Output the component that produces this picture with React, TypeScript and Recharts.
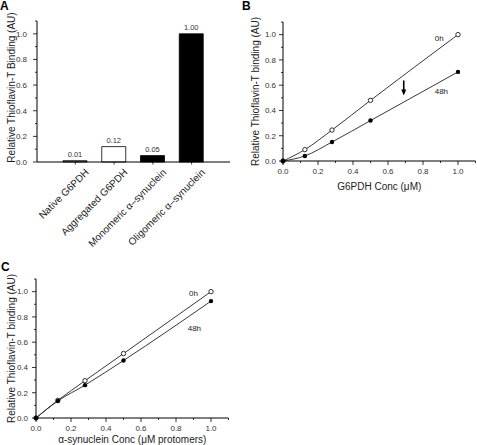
import {
  Bar,
  BarChart,
  Cell,
  LabelList,
  Line,
  LineChart,
  ReferenceDot,
  ReferenceLine,
  XAxis,
  YAxis,
} from "recharts";

const FONT = '"Liberation Sans", Arial, sans-serif';

// panel A
const categories = ["Native G6PDH", "Aggregated G6PDH", "Monomeric α–synuclein", "Oligomeric α–synuclein"];
const bindingValues = [0.01, 0.12, 0.05, 1.0];
const barFills = ["#8a8a8a", "#ffffff", "#000000", "#000000"];

// panel B
const g6pdhConc = [0, 0.125, 0.28, 0.5, 1.0];
const g6pdh0h = [0, 0.09, 0.245, 0.48, 1.0];
const g6pdh48h = [0, 0.04, 0.15, 0.32, 0.705];

// panel C
const synConc = [0, 0.125, 0.28, 0.5, 1.0];
const syn0h = [0, 0.14, 0.295, 0.51, 1.0];
const syn48h = [0, 0.135, 0.26, 0.455, 0.925];

const axisTicks = [0, 0.1, 0.2, 0.3, 0.4, 0.5, 0.6, 0.7, 0.8, 0.9, 1.0, 1.1];

const barData = categories.map((name, i) => ({ name, value: bindingValues[i], fill: barFills[i] }));
const g6pdhData = g6pdhConc.map((x, i) => ({ x, h0: g6pdh0h[i], h48: g6pdh48h[i] }));
const synData = synConc.map((x, i) => ({ x, h0: syn0h[i], h48: syn48h[i] }));

const isMajor = (v: number) => Math.round(v * 10) % 2 === 0;

const YTick = (props: any) => {
  const { x, y, payload, gap } = props;
  const v = payload.value;
  const major = isMajor(v);
  return (
    <g>
      <line x1={x} x2={x - (major ? 4 : 2)} y1={y} y2={y} stroke="#000" strokeWidth={0.8} />
      {major && v <= 1 && (
        <text x={x - gap} y={y} dy="0.35em" textAnchor="end" fontSize={8} fill="#333" fontFamily={FONT}>
          {v.toFixed(1)}
        </text>
      )}
    </g>
  );
};

const XTick = (props: any) => {
  const { x, y, payload } = props;
  const v = payload.value;
  const major = isMajor(v);
  return (
    <g>
      <line x1={x} x2={x} y1={y} y2={y + (major ? 4 : 2)} stroke="#000" strokeWidth={0.8} />
      {major && v <= 1 && (
        <text x={x} y={y + 10} dy="0.35em" textAnchor="middle" fontSize={8} fill="#333" fontFamily={FONT}>
          {v.toFixed(1)}
        </text>
      )}
    </g>
  );
};

const CategoryTick = (props: any) => {
  const { x, y, payload } = props;
  return (
    <g>
      <line x1={x} x2={x} y1={y} y2={y + 2.5} stroke="#000" strokeWidth={0.8} />
      <g transform={`translate(${x + 14}, ${y + 11}) rotate(-45)`}>
        <text x={0} y={0} textAnchor="end" fontSize={10} fill="#222" fontFamily={FONT}>
          {payload.value}
        </text>
      </g>
    </g>
  );
};

const Arrow = (props: any) => {
  const { x1, y1, x2, y2 } = props;
  return (
    <g>
      <line x1={x1} y1={y1} x2={x2} y2={y2 - 5} stroke="#000" strokeWidth={1.6} />
      <polygon points={`${x2 - 2.5},${y2 - 6} ${x2 + 2.5},${y2 - 6} ${x2},${y2}`} fill="#000" />
    </g>
  );
};

const OpenDot = (props: any) => (
  <circle cx={props.cx} cy={props.cy} r={2.2} fill="#fff" stroke="#000" strokeWidth={0.8} />
);
const FilledDot = (props: any) => <circle cx={props.cx} cy={props.cy} r={2.2} fill="#000" />;

const yTitleStyle = { textAnchor: "middle" as const, fontSize: 10, fill: "#222", fontFamily: FONT };
const tagLabel = (value: string) => ({ value, position: "center" as const, fontSize: 8, fill: "#222", fontFamily: FONT });

function PanelLetter({ letter, left, top }: { letter: string; left: number; top: number }) {
  return (
    <div
      style={{
        position: "absolute",
        left,
        top,
        fontFamily: FONT,
        fontWeight: "bold",
        fontSize: 12,
        lineHeight: "12px",
      }}
    >
      {letter}
    </div>
  );
}

export default function App() {
  return (
    <div style={{ position: "absolute", left: 0, top: 0, width: 477, height: 445, background: "#fff", overflow: "hidden" }}>
      <div style={{ position: "absolute", left: 0, top: 0 }}>
        <BarChart width={240} height={258} data={barData} margin={{ top: 21, right: 10, bottom: 0, left: 0 }}>
          <XAxis
            dataKey="name"
            height={96}
            padding={{ left: 19, right: 19 }}
            tickLine={false}
            tickSize={0}
            tickMargin={0}
            interval={0}
            tick={<CategoryTick />}
            stroke="#000"
          />
          <YAxis
            type="number"
            domain={[0, 1.1]}
            ticks={axisTicks}
            interval={0}
            width={37}
            tickLine={false}
            tickSize={0}
            tickMargin={0}
            tick={<YTick gap={10} />}
            stroke="#000"
            label={{ value: "Relative Thioflavin-T Binding (AU)", angle: -90, position: "insideLeft", offset: 11, dy: -4, style: yTitleStyle }}
          />
          <Bar dataKey="value" barSize={24} stroke="#000" strokeWidth={0.8} isAnimationActive={false}>
            {barData.map((d) => (
              <Cell key={d.name} fill={d.fill} />
            ))}
            <LabelList
              dataKey="value"
              position="top"
              offset={4}
              formatter={(v: any) => Number(v).toFixed(2)}
              style={{ fontSize: 7.5, fill: "#333", fontFamily: FONT }}
            />
          </Bar>
        </BarChart>
      </div>

      <div style={{ position: "absolute", left: 240, top: 0 }}>
        <LineChart width={237} height={200} data={g6pdhData} margin={{ top: 22, right: 1.5, bottom: 0, left: 0 }}>
          <XAxis
            type="number"
            dataKey="x"
            domain={[0, 1.1]}
            ticks={axisTicks}
            interval={0}
            height={39}
            tickLine={false}
            tickSize={0}
            tickMargin={0}
            tick={<XTick />}
            stroke="#000"
            label={{ value: "G6PDH Conc (μM)", position: "insideBottom", offset: 10, fontSize: 10, fill: "#222", fontFamily: FONT }}
          />
          <YAxis
            type="number"
            domain={[0, 1.1]}
            ticks={axisTicks}
            interval={0}
            width={43}
            tickLine={false}
            tickSize={0}
            tickMargin={0}
            tick={<YTick gap={7} />}
            stroke="#000"
            label={{ value: "Relative Thioflavin-T binding (AU)", angle: -90, position: "insideLeft", offset: 15, style: yTitleStyle }}
          />
          <Line type="monotone" dataKey="h0" stroke="#222" strokeWidth={0.9} dot={<OpenDot />} isAnimationActive={false} />
          <Line type="monotone" dataKey="h48" stroke="#222" strokeWidth={0.9} dot={<FilledDot />} isAnimationActive={false} />
          <ReferenceLine segment={[{ x: 0.69, y: 0.637 }, { x: 0.69, y: 0.518 }]} shape={<Arrow />} />
          <ReferenceDot x={0.893} y={0.97} r={0} stroke="none" fill="none" label={tagLabel("0h")} />
          <ReferenceDot x={0.905} y={0.55} r={0} stroke="none" fill="none" label={tagLabel("48h")} />
        </LineChart>
      </div>

      <div style={{ position: "absolute", left: 0, top: 240 }}>
        <LineChart width={240} height={205} data={synData} margin={{ top: 39, right: 11.5, bottom: 0, left: 0 }}>
          <XAxis
            type="number"
            dataKey="x"
            domain={[0, 1.1]}
            ticks={axisTicks}
            interval={0}
            height={27}
            tickLine={false}
            tickSize={0}
            tickMargin={0}
            tick={<XTick />}
            stroke="#000"
            label={{ value: "α-synuclein Conc (μM protomers)", position: "insideBottom", offset: 2, fontSize: 10, fill: "#222", fontFamily: FONT }}
          />
          <YAxis
            type="number"
            domain={[0, 1.1]}
            ticks={axisTicks}
            interval={0}
            width={36}
            tickLine={false}
            tickSize={0}
            tickMargin={0}
            tick={<YTick gap={8} />}
            stroke="#000"
            label={{ value: "Relative Thioflavin-T binding (AU)", angle: -90, position: "insideLeft", offset: 11, style: yTitleStyle }}
          />
          <Line type="monotone" dataKey="h0" stroke="#222" strokeWidth={0.9} dot={<OpenDot />} isAnimationActive={false} />
          <Line type="monotone" dataKey="h48" stroke="#222" strokeWidth={0.9} dot={<FilledDot />} isAnimationActive={false} />
          <ReferenceDot x={0.9} y={0.987} r={0} stroke="none" fill="none" label={tagLabel("0h")} />
          <ReferenceDot x={0.905} y={0.714} r={0} stroke="none" fill="none" label={tagLabel("48h")} />
        </LineChart>
      </div>

      <PanelLetter letter="A" left={0} top={0} />
      <PanelLetter letter="B" left={242} top={0} />
      <PanelLetter letter="C" left={1} top={261} />
    </div>
  );
}
